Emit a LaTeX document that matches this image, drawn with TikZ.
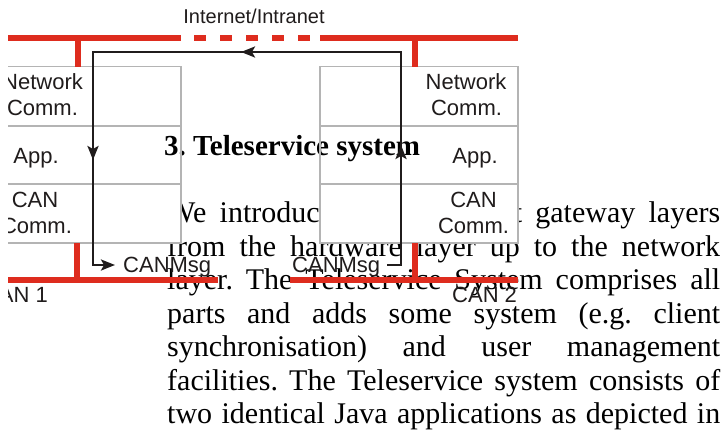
\documentclass[tikz,border=0pt]{standalone}
\usepackage{fontspec}
\setmainfont{Liberation Serif}
\newfontfamily\labelfont{Liberation Sans}
\usetikzlibrary{arrows.meta}
\definecolor{busred}{RGB}{222,44,30}
\definecolor{cellgray}{RGB}{180,180,180}
\definecolor{flowblack}{RGB}{32,28,28}
\frenchspacing

\begin{document}
\begin{tikzpicture}[x=1pt,y=-1pt,
  bus/.style={busred,line width=6pt},
  cell/.style={draw=cellgray,line width=1.4pt},
  lbl/.style={font=\labelfont\fontsize{22}{24}\selectfont,inner sep=0pt,anchor=base,text=flowblack},
  flow/.style={flowblack,line width=2.4pt,line join=miter},
  tip/.style={-{Stealth[length=14pt,width=11pt,inset=3pt]}},
  txt/.style={font=\fontsize{30}{34}\selectfont,inner sep=0pt,anchor=base west}
]
\useasboundingbox (0,0) rectangle (726,434);
\begin{scope}
\clip (8,0) rectangle (726,434);

% body text of the section
\node[txt] (p1) at (167,222.5) {\makebox[553pt][s]{We introduce three different gateway layers}};
\node[txt] (p2) at (167,256) {\makebox[553pt][s]{from the hardware layer up to the network}};
\node[txt] (p3) at (167,289.5) {\makebox[553pt][s]{layer. The Teleservice System comprises all}};
\node[txt] (p4) at (167,323) {\makebox[553pt][s]{parts and adds some system (e.g. client}};
\node[txt] (p5) at (167,356.5) {\makebox[553pt][s]{synchronisation) and user management}};
\node[txt] (p6) at (167,390) {\makebox[553pt][s]{facilities. The Teleservice system consists of}};
\node[txt] (p7) at (167,423.5) {\makebox[553pt][s]{two identical Java applications as depicted in}};

% layer stacks (white cells)
\fill[white] (-10,66.7) rectangle (181,243);
\fill[white] (320,66.7) rectangle (518,243);

% section heading
\node[font=\bfseries\fontsize{29}{34}\selectfont,inner sep=0pt,anchor=base west] (head) at (164,155) {3. Teleservice system};

% cell outlines
\draw[cell] (-10,66.7) rectangle (181,243);
\draw[cell] (-10,126) -- (181,126);
\draw[cell] (-10,184) -- (181,184);
\draw[cell] (320,66.7) rectangle (518,243);
\draw[cell] (320,126) -- (518,126);
\draw[cell] (320,184) -- (518,184);

% layer labels, gateway 1
\node[lbl] (ln1) at (42.5,89) {Network};
\node[lbl] (ln2) at (42.5,115) {Comm.};
\node[lbl] (la) at (36,163) {App.};
\node[lbl] (lc1) at (35,207) {CAN};
\node[lbl] (lc2) at (36.5,233) {Comm.};
% layer labels, gateway 2
\node[lbl] (rn1) at (466,89) {Network};
\node[lbl] (rn2) at (466.5,115) {Comm.};
\node[lbl] (ra) at (475,163) {App.};
\node[lbl] (rc1) at (473.5,207) {CAN};
\node[lbl] (rc2) at (473.5,233) {Comm.};

% network and CAN buses
\draw[bus] (8,38) -- (181,38);
\draw[bus,dash pattern=on 12pt off 14pt,dash phase=13pt] (181,38) -- (320,38);
\draw[bus] (320,38) -- (518,38);
\draw[bus] (78,38) -- (78,66.7);
\draw[bus] (415,38) -- (415,66.7);
\draw[bus] (8,280) -- (218,280);
\draw[bus] (77,243) -- (77,280);
\draw[bus] (290,280) -- (518,280);
\draw[bus] (415,243) -- (415,280);

\node[font=\labelfont\fontsize{20}{22}\selectfont,inner sep=0pt,anchor=base,text=flowblack] (inet) at (254,23) {Internet/Intranet};
\node[lbl,anchor=base east] (can1) at (48,302) {CAN 1};
\node[lbl,anchor=base west] (can2) at (452,302) {CAN 2};

% message path
\coordinate (rEnd) at (387,265);
\coordinate (rCorner) at (401,265);
\coordinate (rTop) at (401,52);
\coordinate (lTop) at (93,52);
\coordinate (lBot) at (93,265);
\coordinate (lTip) at (115,265);
\coordinate (upTip) at (401,145);
\coordinate (leftTip) at (241,52);
\coordinate (downTip) at (93,160);
\draw[flow,tip] (rEnd) -- (rCorner) -- (rTop) -- (lTop) -- (lBot) -- (lTip);
\draw[flow,tip] (rCorner) -- (upTip);
\draw[flow,tip] (rTop) -- (leftTip);
\draw[flow,tip] (lTop) -- (downTip);

\node[lbl,anchor=base west] (msg1) at (123,272) {CANMsg};
\node[lbl,anchor=base west] (msg2) at (292,272) {CANMsg};
\end{scope}
\end{tikzpicture}
\end{document}
